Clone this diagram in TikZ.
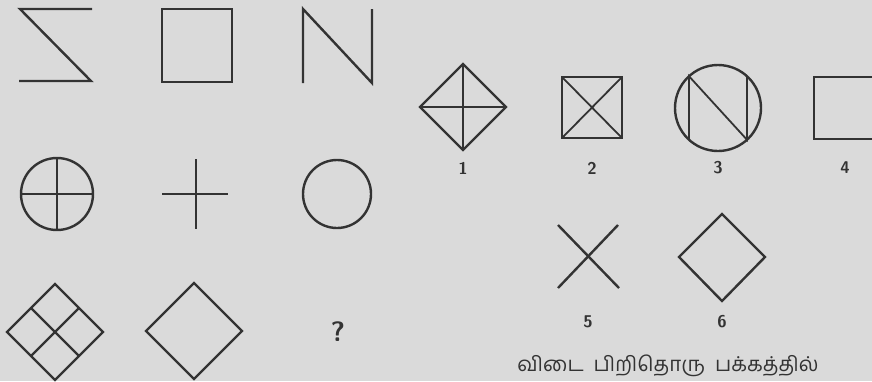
\documentclass[tikz,border=0pt]{standalone}
\usepackage{fontspec}
\newfontfamily\tamilfont[Script=Tamil]{Hind Madurai}
\usetikzlibrary{positioning}
\definecolor{paper}{HTML}{DADADA}
\definecolor{ink}{HTML}{333333}

\begin{document}
\begin{tikzpicture}[
        x=1pt,
        y=-1pt,
        fig/.style={draw=ink, line width=2.4pt, line join=miter},
        thin/.style={draw=ink, line width=1.8pt},
        num/.style={text=ink, font=\sffamily\bfseries\fontsize{17}{17}\selectfont},
        ans/.style={text=ink, font=\tamilfont\fontsize{20.5}{20.5}\selectfont}
    ]
        \useasboundingbox[fill=paper] (0,0) rectangle (872,381);
        \clip (0,0) rectangle (872,381);

        % question, row 1
        \draw[fig] (92,9) -- (20,9) -- (91,81) -- (19,81);
        \draw[fig] (162,9) rectangle (232,82);
        \draw[fig] (303,83) -- (303,9) -- (372,83) -- (372,9);

        % question, row 2
        \draw[fig] (57,194) circle (36);
        \draw[thin] (57,158) -- (57,230) (21,194) -- (93,194);
        \draw[fig] (162,194) -- (228,194) (196,159) -- (196,229);
        \draw[fig] (337,194) circle (34);

        % question, row 3
        \draw[fig] (55,284) -- (103,332) -- (55,380) -- (7,332) -- cycle;
        \draw[fig] (79,308) -- (31,356) (31,308) -- (79,356);
        \draw[fig] (194,283) -- (242,331) -- (194,379) -- (146,331) -- cycle;
        \node[text=ink, font=\sffamily\bfseries\fontsize{28}{28}\selectfont] (qm) at (338,332) {?};

        % answers 1--4
        \draw[fig] (463,64) -- (506,107) -- (463,150) -- (420,107) -- cycle;
        \draw[thin] (463,64) -- (463,150) (420,107) -- (506,107);
        \draw[fig] (562,77) rectangle (622,138);
        \draw[thin] (562,77) -- (622,138) (622,77) -- (562,138);
        \draw[fig] (718,108) circle (43);
        \draw[thin] (718,108) ++(227.6:43 and -43) coordinate (bl)
            (718,108) ++(132.4:43 and -43) coordinate (tl)
            (718,108) ++(-47.6:43 and -43) coordinate (br)
            (718,108) ++(47.6:43 and -43) coordinate (tr);
        \draw[thin] (bl) -- (tl) -- (br) -- (tr);
        \draw[fig] (900,77) -- (814,77) -- (814,139) -- (900,139);

        % answers 5--6
        \draw[fig] (558,225) -- (619,288) (618,225) -- (558,288);
        \draw[fig] (722,214) -- (765,257) -- (722,301) -- (679,257) -- cycle;

        \foreach \x/\y/\lab in {463/168/1,592/168/2,718/168/3,845/168/4,588/322/5,722/322/6}{
            \node[num] (n\lab) at (\x,\y) {\lab};
        }

        \node[ans] (hint) at (668,366) {விடை\ \ பிறிதொரு\ \ பக்கத்தில்};
    \end{tikzpicture}
\end{document}
